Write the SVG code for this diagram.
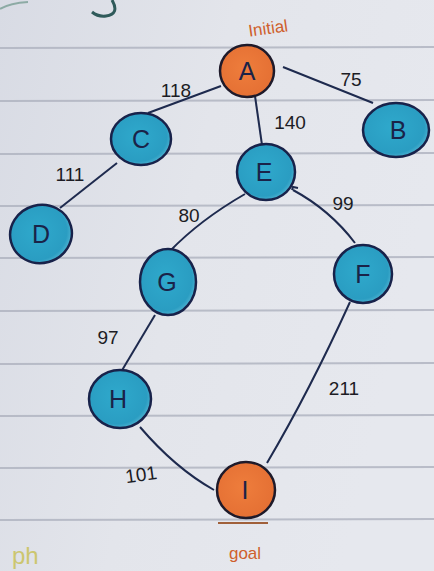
<svg xmlns="http://www.w3.org/2000/svg" width="434" height="571" viewBox="0 0 434 571">
<defs>
<linearGradient id="paper" x1="0" y1="0" x2="1" y2="0.3">
<stop offset="0" stop-color="#d8dbe4"/>
<stop offset="0.5" stop-color="#e3e5eb"/>
<stop offset="1" stop-color="#e6e8ee"/>
</linearGradient>
<radialGradient id="teal" cx="0.45" cy="0.45" r="0.6">
<stop offset="0" stop-color="#2fa9cc"/>
<stop offset="0.8" stop-color="#2a9dc2"/>
<stop offset="1" stop-color="#5bbad6"/>
</radialGradient>
<radialGradient id="orange" cx="0.45" cy="0.45" r="0.6">
<stop offset="0" stop-color="#ee7d3c"/>
<stop offset="1" stop-color="#e46f33"/>
</radialGradient>
<style>
.rule{stroke:#aeb2bf;stroke-width:2;opacity:0.8}
.edge{fill:none;stroke:#1e2a4e;stroke-width:2}
.tnode{fill:url(#teal);stroke:#18224a;stroke-width:2.5}
.onode{fill:url(#orange);stroke:#1e1a2a;stroke-width:2.5}
.lbl{font-family:"Liberation Sans",Arial,sans-serif;font-size:25px;fill:#1a2348;text-anchor:middle}
.w{font-family:"Liberation Sans",Arial,sans-serif;font-size:19px;fill:#1c1c24;text-anchor:middle}
.note{font-family:"Liberation Sans",Arial,sans-serif;font-size:17px;fill:#cf5f2c;text-anchor:middle}
</style>
</defs>
<rect width="434" height="571" fill="url(#paper)"/>
<g id="rules">
<line class="rule" x1="0" y1="48" x2="434" y2="47"/>
<line class="rule" x1="0" y1="101" x2="434" y2="100"/>
<line class="rule" x1="0" y1="154" x2="434" y2="153"/>
<line class="rule" x1="0" y1="206" x2="434" y2="205"/>
<line class="rule" x1="0" y1="258" x2="434" y2="257"/>
<line class="rule" x1="0" y1="311" x2="434" y2="310"/>
<line class="rule" x1="0" y1="364" x2="434" y2="363"/>
<line class="rule" x1="0" y1="416" x2="434" y2="415"/>
<line class="rule" x1="0" y1="468" x2="434" y2="467"/>
<line class="rule" x1="0" y1="520" x2="434" y2="519"/>
</g>
<path d="M112 0 Q120 14 106 16 Q98 17 92 12" fill="none" stroke="#2f5a5a" stroke-width="3"/>
<path d="M0 9 Q10 3 28 2" fill="none" stroke="#5a8a7a" stroke-width="2" opacity="0.6"/>
<text x="12" y="564" font-family="Liberation Sans,Arial,sans-serif" font-size="24" fill="#c9c25a" opacity="0.85">ph</text>
<g id="connectors">
<path class="edge" d="M221 86 L148 113"/>
<path class="edge" d="M283 67 L373 103"/>
<path class="edge" d="M255 96 L262 145"/>
<path class="edge" d="M117 163 L60 208"/>
<path class="edge" d="M245 194 Q200 220 170 251"/>
<path class="edge" d="M293 190 Q330 210 355 243"/>
<path class="edge" d="M155 315 L121 372"/>
<path class="edge" d="M350 302 Q310 390 267 463"/>
<path class="edge" d="M140 427 Q175 468 214 490"/>
<path d="M292 190 l1 -3 l5 1" class="edge"/>
</g>
<g id="edge-labels">
<text class="w" x="176" y="97">118</text>
<text class="w" x="351" y="86">75</text>
<text class="w" x="290" y="129">140</text>
<text class="w" x="70" y="181">111</text>
<text class="w" x="189" y="222">80</text>
<text class="w" x="343" y="210">99</text>
<text class="w" x="108" y="344">97</text>
<text class="w" x="344" y="395">211</text>
<text class="w" x="141" y="481" transform="rotate(-8 141 474)">101</text>
</g>
<g id="node-A">
<ellipse class="onode" cx="247" cy="71" rx="27" ry="26"/>
<text class="lbl" x="247" y="80">A</text>
<text class="note" x="268" y="34" transform="rotate(-8 268 28)">Initial</text>
</g>
<g id="node-B">
<ellipse class="tnode" cx="396" cy="130" rx="33" ry="27"/>
<text class="lbl" x="398" y="139">B</text>
</g>
<g id="node-C">
<ellipse class="tnode" cx="141" cy="139" rx="30" ry="26"/>
<text class="lbl" x="141" y="148">C</text>
</g>
<g id="node-D">
<ellipse class="tnode" cx="41" cy="234" rx="31" ry="29" transform="rotate(-15 41 234)"/>
<text class="lbl" x="41" y="243">D</text>
</g>
<g id="node-E">
<ellipse class="tnode" cx="266" cy="172" rx="29" ry="28"/>
<text class="lbl" x="264" y="181">E</text>
</g>
<g id="node-F">
<ellipse class="tnode" cx="363" cy="274" rx="29" ry="29"/>
<text class="lbl" x="363" y="283">F</text>
</g>
<g id="node-G">
<ellipse class="tnode" cx="168" cy="282" rx="28" ry="33"/>
<text class="lbl" x="167" y="291">G</text>
</g>
<g id="node-H">
<ellipse class="tnode" cx="120" cy="399" rx="31" ry="29"/>
<text class="lbl" x="118" y="408">H</text>
</g>
<g id="node-I">
<ellipse class="onode" cx="246" cy="490" rx="29" ry="28"/>
<text class="lbl" x="245" y="499">I</text>
<line x1="218" y1="523" x2="268" y2="523" stroke="#a0603a" stroke-width="2"/>
<text class="note" x="245" y="559" font-size="19">goal</text>
</g>
</svg>
